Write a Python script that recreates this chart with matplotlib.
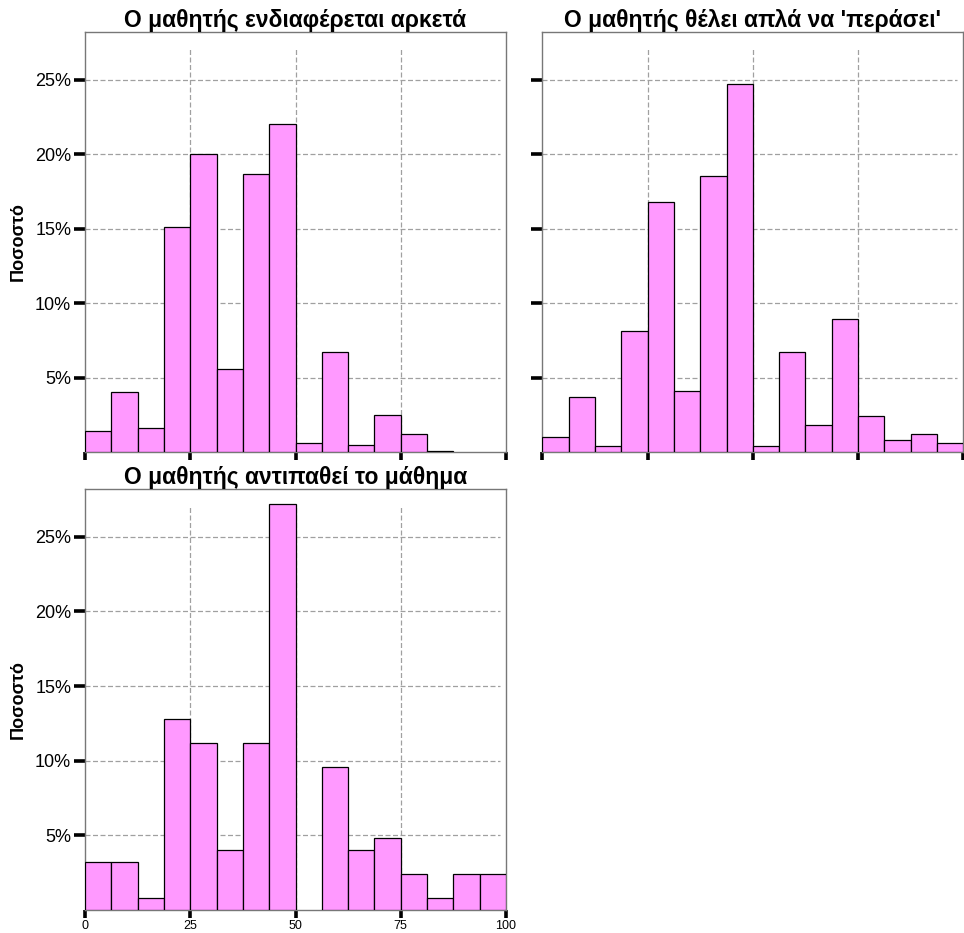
import numpy as np
import matplotlib.pyplot as plt
from matplotlib.ticker import FuncFormatter

plt.rcParams['font.family'] = ['Liberation Sans', 'DejaVu Sans']

# 16 bins of width 6.25 over the 0-100 grade range
bin_edges = np.linspace(0, 100, 17)

title_interested = "Ο μαθητής ενδιαφέρεται αρκετά"
title_pass = "Ο μαθητής θέλει απλά να 'περάσει'"
title_dislike = "Ο μαθητής αντιπαθεί το μάθημα"

# percentage of students per bin
pct_interested = [1.4, 4.0, 1.6, 15.1, 20.0, 5.6, 18.7, 22.0,
                  0.6, 6.7, 0.5, 2.5, 1.2, 0.1, 0.0, 0.0]
pct_pass = [1.0, 3.7, 0.4, 8.1, 16.8, 4.1, 18.5, 24.7,
            0.4, 6.7, 1.8, 8.9, 2.4, 0.8, 1.2, 0.6]
pct_dislike = [3.2, 3.2, 0.8, 12.8, 11.2, 4.0, 11.2, 27.2,
               0.0, 9.6, 4.0, 4.8, 2.4, 0.8, 2.4, 2.4]

x_ticks = [0, 25, 50, 75, 100]
y_ticks = [5, 10, 15, 20, 25]
y_label = "Ποσοστό"

bar_color = "#ff99ff"
grid_color = "#a0a0a0"
spine_color = "#777777"


def draw_panel(ax, pct, title, show_xlabels, show_ylabels):
    pct = np.asarray(pct)
    keep = pct > 0
    ax.bar(bin_edges[:-1][keep], pct[keep], width=np.diff(bin_edges)[keep],
           align='edge', color=bar_color, edgecolor='black', linewidth=0.9,
           zorder=3)

    ax.set_xlim(0, 100)
    ax.set_ylim(0, 28.2)
    ax.set_xticks(x_ticks)
    ax.set_yticks(y_ticks)

    # dashed reference grid, slightly inset from the top/right border
    for y in y_ticks:
        ax.axhline(y, xmin=0, xmax=0.985, color=grid_color, lw=0.9,
                   ls=(0, (4, 2)), zorder=1)
    for x in x_ticks[1:-1]:
        ax.axvline(x, ymin=0, ymax=0.96, color=grid_color, lw=0.9,
                   ls=(0, (4, 2)), zorder=1)

    for sp in ax.spines.values():
        sp.set_color(spine_color)
        sp.set_linewidth(1.0)

    ax.tick_params(axis='both', which='major', direction='out', color='black',
                   width=2.6)
    ax.tick_params(axis='x', labelsize=9, pad=1, length=6)
    ax.tick_params(axis='y', labelsize=13, pad=2, length=8)
    ax.yaxis.set_major_formatter(FuncFormatter(lambda v, p: f"{v:.0f}%"))
    if not show_xlabels:
        ax.tick_params(axis='x', labelbottom=False)
    if not show_ylabels:
        ax.tick_params(axis='y', labelleft=False)
    else:
        ax.set_ylabel(y_label, fontsize=13, fontweight='bold', labelpad=6)

    ax.set_title(title, fontsize=16.5, fontweight='bold', pad=2)


fig = plt.figure(figsize=(9.64, 9.33), dpi=100)
ax1 = fig.add_axes([0.0882, 0.5155, 0.4367, 0.4502])
ax2 = fig.add_axes([0.5626, 0.5155, 0.4367, 0.4502])
ax3 = fig.add_axes([0.0882, 0.0247, 0.4367, 0.4512])

draw_panel(ax1, pct_interested, title_interested, False, True)
draw_panel(ax2, pct_pass, title_pass, False, False)
draw_panel(ax3, pct_dislike, title_dislike, True, True)

fig.savefig("out.png", dpi=100)
